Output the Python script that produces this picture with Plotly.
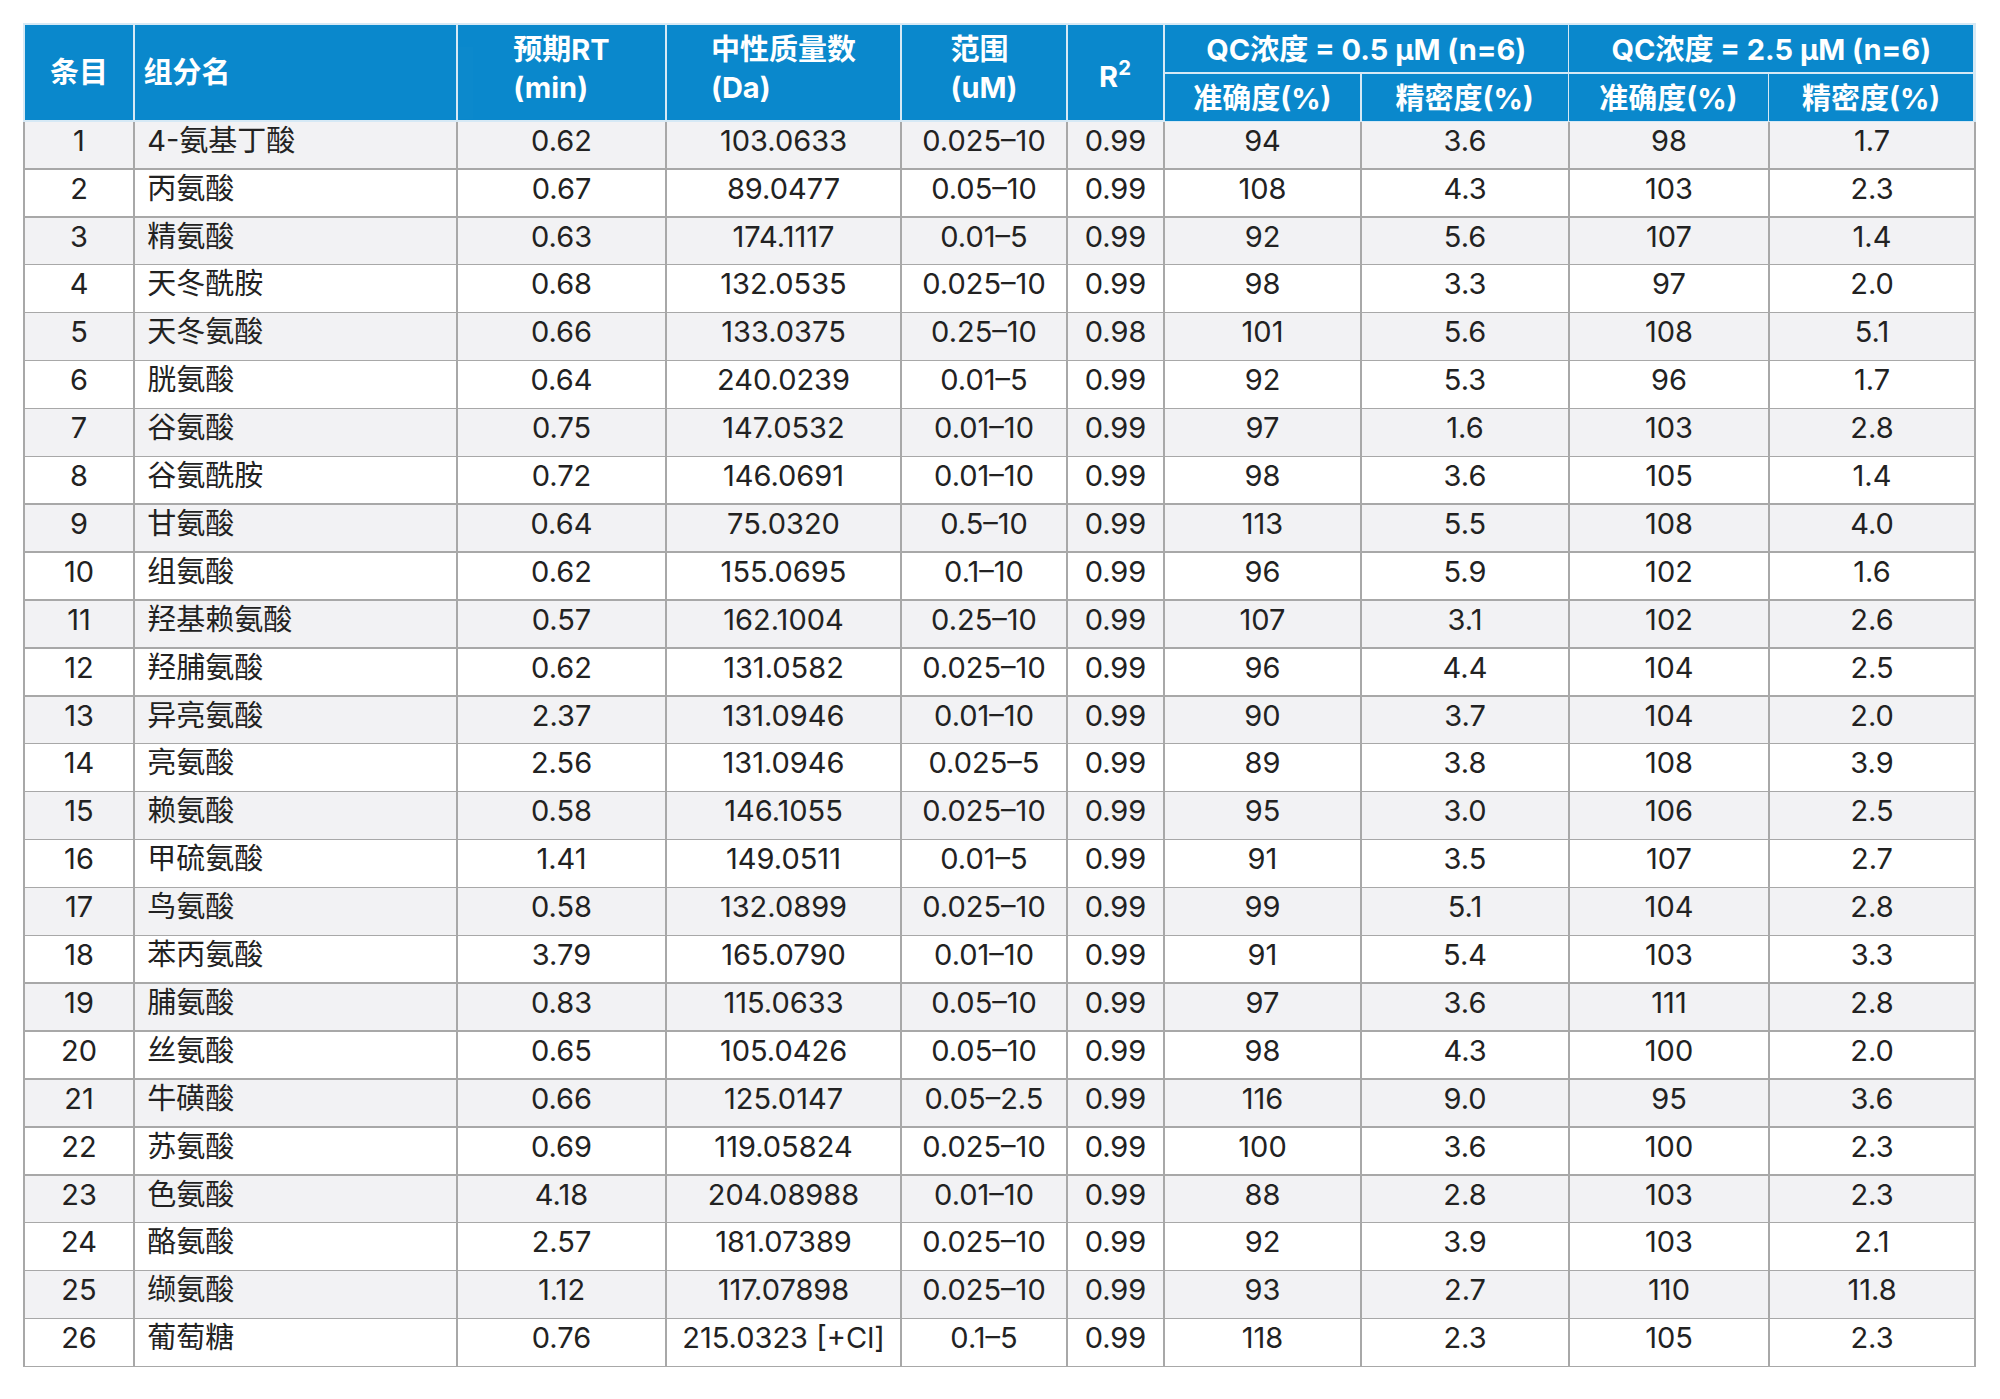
"""Amino acid QC table (Chinese) rebuilt as a Plotly table."""

import plotly.graph_objects as go

ENTRY = list(range(1, 27))
NAMES = [
    "4-氨基丁酸", "丙氨酸", "精氨酸", "天冬酰胺", "天冬氨酸", "胱氨酸", "谷氨酸",
    "谷氨酰胺", "甘氨酸", "组氨酸", "羟基赖氨酸", "羟脯氨酸", "异亮氨酸", "亮氨酸",
    "赖氨酸", "甲硫氨酸", "鸟氨酸", "苯丙氨酸", "脯氨酸", "丝氨酸", "牛磺酸",
    "苏氨酸", "色氨酸", "酪氨酸", "缬氨酸", "葡萄糖",
]
RT = ["0.62", "0.67", "0.63", "0.68", "0.66", "0.64", "0.75", "0.72", "0.64", "0.62",
      "0.57", "0.62", "2.37", "2.56", "0.58", "1.41", "0.58", "3.79", "0.83", "0.65",
      "0.66", "0.69", "4.18", "2.57", "1.12", "0.76"]
MASS = ["103.0633", "89.0477", "174.1117", "132.0535", "133.0375", "240.0239",
        "147.0532", "146.0691", "75.0320", "155.0695", "162.1004", "131.0582",
        "131.0946", "131.0946", "146.1055", "149.0511", "132.0899", "165.0790",
        "115.0633", "105.0426", "125.0147", "119.05824", "204.08988", "181.07389",
        "117.07898", "215.0323 [+Cl]"]
RANGE = ["0.025–10", "0.05–10", "0.01–5", "0.025–10", "0.25–10", "0.01–5", "0.01–10",
         "0.01–10", "0.5–10", "0.1–10", "0.25–10", "0.025–10", "0.01–10", "0.025–5",
         "0.025–10", "0.01–5", "0.025–10", "0.01–10", "0.05–10", "0.05–10",
         "0.05–2.5", "0.025–10", "0.01–10", "0.025–10", "0.025–10", "0.1–5"]
R2 = ["0.99"] * 4 + ["0.98"] + ["0.99"] * 21
ACC_LOW = [94, 108, 92, 98, 101, 92, 97, 98, 113, 96, 107, 96, 90, 89, 95, 91, 99,
           91, 97, 98, 116, 100, 88, 92, 93, 118]
PREC_LOW = ["3.6", "4.3", "5.6", "3.3", "5.6", "5.3", "1.6", "3.6", "5.5", "5.9",
            "3.1", "4.4", "3.7", "3.8", "3.0", "3.5", "5.1", "5.4", "3.6", "4.3",
            "9.0", "3.6", "2.8", "3.9", "2.7", "2.3"]
ACC_HIGH = [98, 103, 107, 97, 108, 96, 103, 105, 108, 102, 102, 104, 104, 108, 106,
            107, 104, 103, 111, 100, 95, 100, 103, 103, 110, 105]
PREC_HIGH = ["1.7", "2.3", "1.4", "2.0", "5.1", "1.7", "2.8", "1.4", "4.0", "1.6",
             "2.6", "2.5", "2.0", "3.9", "2.5", "2.7", "2.8", "3.3", "2.8", "2.0",
             "3.6", "2.3", "2.3", "2.1", "11.8", "2.3"]

# two-line headers live in the main table; single-line and grouped ones are overlays
HEADERS = ["", "", "预期RT<br>(min)", "中性质量数<br>(Da)", "范围<br>(uM)", "", "", "", "", ""]
SINGLE = {0: ("条目", "center"), 1: ("组分名", "left"), 5: ("R<sup>2</sup>", "center")}
GROUPS = ["QC浓度 = 0.5 µM (n=6)", "QC浓度 = 2.5 µM (n=6)"]
SUBHEADERS = ["准确度(%)", "精密度(%)", "准确度(%)", "精密度(%)"]

BLUE = "#0A88CC"
GREY = "#F2F2F4"
LINE = "#A8A8A8"
SEP = "#D6E9F5"
FONT = "Inter, Noto Sans CJK SC, sans-serif"
SIZE = 29

# table frame in page pixels
X0, W = 24, 1951
Y0, H = 24, 1343
HEAD, TIER = 97, 49
col_w = [110, 323, 209, 235, 166, 97, 197, 208, 200, 206]
edges = [X0]
for w in col_w:
    edges.append(edges[-1] + w)


def fx(px):
    return (px - X0) / W


def fy(py):
    return 1 - (py - Y0) / H


row_fill = [GREY if i % 2 == 0 else "white" for i in range(len(ENTRY))]
names = ["\u2009" + n for n in NAMES]  # a touch of extra left padding

fig = go.Figure()
fig.add_trace(go.Table(
    columnwidth=col_w,
    header=dict(
        values=[f"<b>{h}</b>" if h else "" for h in HEADERS],
        fill_color=BLUE, line_color=SEP, line_width=1.5,
        font=dict(family=FONT, size=SIZE, color="white"),
        align="center", height=HEAD,
    ),
    cells=dict(
        values=[ENTRY, names, RT, MASS, RANGE, R2, ACC_LOW, PREC_LOW, ACC_HIGH, PREC_HIGH],
        fill_color=[row_fill], line_color=LINE, line_width=1.5,
        font=dict(family=FONT, size=SIZE, color="#222222"),
        align=["center", "left"] + ["center"] * 8, height=47.9,
    ),
    domain=dict(x=[0, 1], y=[0, 1]),
))

# single-line headers, set lower so they sit in the middle of the header band
for i, (label, al) in SINGLE.items():
    fig.add_trace(go.Table(
        columnwidth=[1],
        header=dict(
            values=[f"<b>{label}</b>"],
            fill_color=BLUE, line_color=BLUE, line_width=0.5,
            font=dict(family=FONT, size=SIZE, color="white"),
            align=al, height=72,
        ),
        cells=dict(values=[[]]),
        domain=dict(x=[fx(edges[i] + 1.5), fx(edges[i + 1] - 1.5)],
                    y=[fy(Y0 + HEAD - 2), fy(Y0 + 23)]),
    ))

# grouped QC header: top tier
fig.add_trace(go.Table(
    columnwidth=[col_w[6] + col_w[7], col_w[8] + col_w[9]],
    header=dict(
        values=[f"<b>{g}</b>" for g in GROUPS],
        fill_color=BLUE, line_color=SEP, line_width=1.5,
        font=dict(family=FONT, size=SIZE, color="white"),
        align="center", height=TIER,
    ),
    cells=dict(values=[[], []]),
    domain=dict(x=[fx(edges[6]), 1], y=[fy(Y0 + TIER + 2), 1]),
))

# grouped QC header: bottom tier
fig.add_trace(go.Table(
    columnwidth=col_w[6:],
    header=dict(
        values=[f"<b>{s}</b>" for s in SUBHEADERS],
        fill_color=BLUE, line_color=SEP, line_width=1.5,
        font=dict(family=FONT, size=SIZE, color="white"),
        align="center", height=HEAD - TIER - 1.5,
    ),
    cells=dict(values=[[], [], [], []]),
    domain=dict(x=[fx(edges[6]), 1], y=[fy(Y0 + HEAD), fy(Y0 + TIER)]),
))

fig.update_layout(
    width=2000, height=1399,
    margin=dict(l=16, r=33, t=16, b=40),
    paper_bgcolor="white",
)

fig.write_html("out.html")
